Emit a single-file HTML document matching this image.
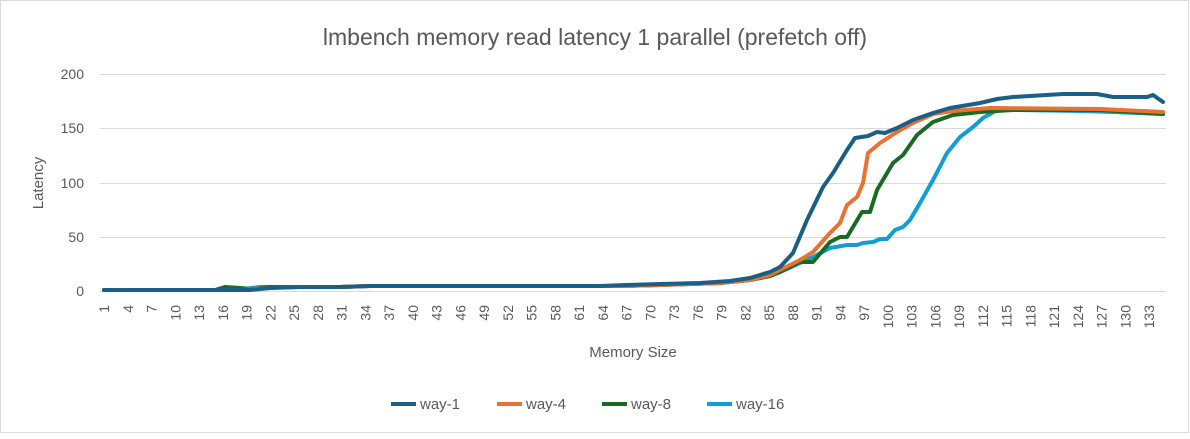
<!DOCTYPE html>
<html><head><style>
body{margin:0;background:#fff;}
svg text{font-family:"Liberation Sans",sans-serif;fill:#595959;}
</style></head><body>
<svg width="1190" height="434" xmlns="http://www.w3.org/2000/svg">
<rect x="0.5" y="0.5" width="1188" height="432" fill="#fff" stroke="#d9d9d9"/>
<text x="595" y="45" font-size="23" text-anchor="middle">lmbench memory read latency 1 parallel (prefetch off)</text>
<g stroke="#d9d9d9" stroke-width="1">
<line x1="100" y1="74.5" x2="1166" y2="74.5"/>
<line x1="100" y1="128.5" x2="1166" y2="128.5"/>
<line x1="100" y1="183.5" x2="1166" y2="183.5"/>
<line x1="100" y1="237.5" x2="1166" y2="237.5"/>
<line x1="100" y1="291.5" x2="1166" y2="291.5"/>
</g>
<g font-size="14" text-anchor="end">
<text x="84" y="79">200</text><text x="84" y="133">150</text><text x="84" y="188">100</text><text x="84" y="242">50</text><text x="84" y="296">0</text>
</g>
<text transform="translate(43,183) rotate(-90)" font-size="15" text-anchor="middle">Latency</text>
<text x="633" y="357" font-size="15" text-anchor="middle">Memory Size</text>
<g fill="none" stroke-width="4" stroke-linejoin="round" stroke-linecap="round">
<polyline stroke="#0F9ED5" points="104,290 220,290 230,288 245,289 260,287 300,287 340,287 370,286 620,286 660,285 720,283 750,280 770,276 780,272 813,257 830,248 847,245 857,245 863,243 873,242 880,239 887,239 895,230 903,227 910,220 920,203 933,180 947,153 960,137 973,127 983,118 997,110 1013,110 1080,111 1113,112 1163,114"/>
<polyline stroke="#196B24" points="104,290 215,290 225,287 240,288 255,289 270,287 300,287 340,287 370,286 620,286 660,285 720,283 750,280 770,276 780,272 800,262 813,262 830,242 840,237 847,237 862,212 870,212 877,190 893,163 903,155 917,135 933,122 953,115 980,112 1013,110 1100,110 1163,114"/>
<polyline stroke="#E97132" points="104,290 240,290 255,289 270,288 300,287 340,287 370,286 620,286 660,285 720,283 750,280 770,275 780,270 800,260 813,252 830,233 840,223 847,205 857,197 863,183 868,153 880,143 897,132 913,123 933,114 953,111 990,108 1100,109 1163,112"/>
<polyline stroke="#1B5E86" points="104,290 250,290 270,288 300,287 340,287 370,286 600,286 626,285 660,284 700,283 730,281 750,278 770,272 780,267 793,253 807,220 823,187 833,173 847,150 855,138 868,136 877,132 885,133 897,128 913,120 933,113 950,108 980,103 997,99 1013,97 1030,96 1063,94 1097,94 1113,97 1147,97 1153,95 1163,102"/>
</g>
<g stroke-width="4">
<line x1="391" y1="404" x2="416" y2="404" stroke="#1B5E86"/>
<line x1="497" y1="404" x2="522" y2="404" stroke="#E97132"/>
<line x1="602" y1="404" x2="627" y2="404" stroke="#196B24"/>
<line x1="707" y1="404" x2="732" y2="404" stroke="#0F9ED5"/>
</g>
<g font-size="15">
<text x="420" y="409">way-1</text>
<text x="526" y="409">way-4</text>
<text x="631" y="409">way-8</text>
<text x="736" y="409">way-16</text>
</g>
<g font-size="14" text-anchor="end">
<text transform="translate(109,305) rotate(-90)">1</text>
<text transform="translate(132.8,305) rotate(-90)">4</text>
<text transform="translate(156.5,305) rotate(-90)">7</text>
<text transform="translate(180.3,305) rotate(-90)">10</text>
<text transform="translate(204,305) rotate(-90)">13</text>
<text transform="translate(227.8,305) rotate(-90)">16</text>
<text transform="translate(251.5,305) rotate(-90)">19</text>
<text transform="translate(275.3,305) rotate(-90)">22</text>
<text transform="translate(299,305) rotate(-90)">25</text>
<text transform="translate(322.8,305) rotate(-90)">28</text>
<text transform="translate(346.5,305) rotate(-90)">31</text>
<text transform="translate(370.3,305) rotate(-90)">34</text>
<text transform="translate(394,305) rotate(-90)">37</text>
<text transform="translate(417.8,305) rotate(-90)">40</text>
<text transform="translate(441.5,305) rotate(-90)">43</text>
<text transform="translate(465.3,305) rotate(-90)">46</text>
<text transform="translate(489,305) rotate(-90)">49</text>
<text transform="translate(512.8,305) rotate(-90)">52</text>
<text transform="translate(536.5,305) rotate(-90)">55</text>
<text transform="translate(560.3,305) rotate(-90)">58</text>
<text transform="translate(584,305) rotate(-90)">61</text>
<text transform="translate(607.8,305) rotate(-90)">64</text>
<text transform="translate(631.5,305) rotate(-90)">67</text>
<text transform="translate(655.3,305) rotate(-90)">70</text>
<text transform="translate(679,305) rotate(-90)">73</text>
<text transform="translate(702.8,305) rotate(-90)">76</text>
<text transform="translate(726.5,305) rotate(-90)">79</text>
<text transform="translate(750.3,305) rotate(-90)">82</text>
<text transform="translate(774,305) rotate(-90)">85</text>
<text transform="translate(797.8,305) rotate(-90)">88</text>
<text transform="translate(821.5,305) rotate(-90)">91</text>
<text transform="translate(845.3,305) rotate(-90)">94</text>
<text transform="translate(869,305) rotate(-90)">97</text>
<text transform="translate(892.8,305) rotate(-90)">100</text>
<text transform="translate(916.5,305) rotate(-90)">103</text>
<text transform="translate(940.3,305) rotate(-90)">106</text>
<text transform="translate(964,305) rotate(-90)">109</text>
<text transform="translate(987.8,305) rotate(-90)">112</text>
<text transform="translate(1011.5,305) rotate(-90)">115</text>
<text transform="translate(1035.3,305) rotate(-90)">118</text>
<text transform="translate(1059,305) rotate(-90)">121</text>
<text transform="translate(1082.8,305) rotate(-90)">124</text>
<text transform="translate(1106.5,305) rotate(-90)">127</text>
<text transform="translate(1130.3,305) rotate(-90)">130</text>
<text transform="translate(1154,305) rotate(-90)">133</text>
</g>
</svg>
</body></html>
